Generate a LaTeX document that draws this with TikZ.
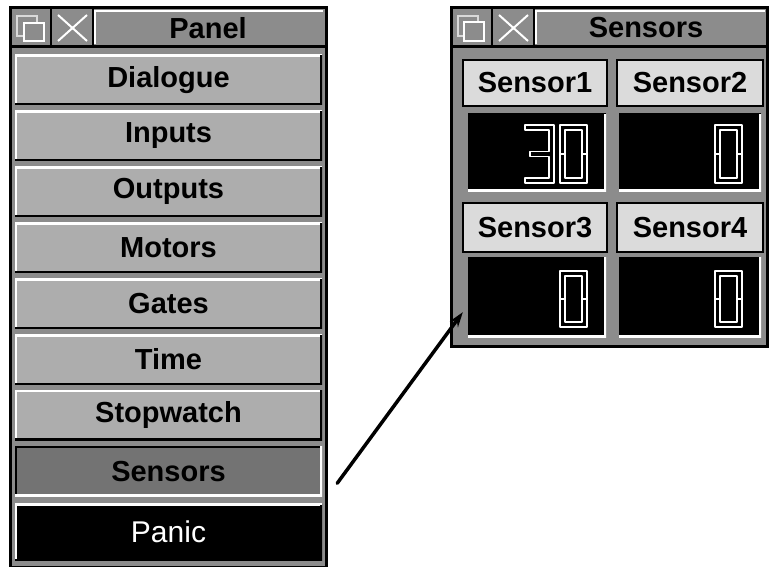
\documentclass[tikz,border=0pt]{standalone}
\usepackage{fontspec}
\setmainfont{Liberation Sans}
\usetikzlibrary{positioning,calc,arrows.meta}
\definecolor{wingray}{gray}{0.55}
\definecolor{btngray}{gray}{0.68}
\definecolor{selgray}{gray}{0.45}
\definecolor{labgray}{gray}{0.86}
\tikzset{
  uifont/.style={font=\fontsize{29}{29}\selectfont\bfseries},
  raised/.style={path picture={
    \draw[white,line width=4pt] (path picture bounding box.south west) -- (path picture bounding box.north west) -- (path picture bounding box.north east);
    \draw[black,line width=4pt] (path picture bounding box.north east) -- (path picture bounding box.south east) -- (path picture bounding box.south west);}},
  sunken/.style={path picture={
    \draw[black,line width=4pt] (path picture bounding box.south west) -- (path picture bounding box.north west) -- (path picture bounding box.north east);
    \draw[white,line width=4pt] (path picture bounding box.north east) -- (path picture bounding box.south east) -- (path picture bounding box.south west);}},
  btn/.style={uifont,fill=btngray,minimum width=307pt,minimum height=50pt,inner sep=0pt,raised},
  senslabel/.style={uifont,fill=labgray,draw=black,line width=2pt,inner sep=0pt},
  display/.style={fill=black,inner sep=0pt,sunken},
  seg/.style={white,line width=1.5pt,line join=round}
}
\begin{document}
\begin{tikzpicture}[x=1pt,y=-1pt]
\useasboundingbox (0,0) rectangle (774,567);
% panel window
\fill[wingray] (10,8) rectangle (326,567);
\draw[line width=3pt] (10,8) rectangle (326,567);
\draw[line width=3pt] (10,47) -- (326,47);
\draw[line width=2.5pt] (51,8) -- (51,47) (93,8) -- (93,47);
\draw[white,line width=1.5pt] (95,44) -- (95,11) -- (323,11);
\draw[white!85!black,line width=1.5pt] (17,16) rectangle (37,36);
\draw[white,line width=1.5pt,fill=wingray] (24,23) rectangle (44,41);
\draw[white,line width=2pt] (58,15) -- (87,41) (87,15) -- (58,41);
\node[uifont] (pnltitle) at (208,28) {Panel};
\node[btn] (dlgBtn) at (168.5,80) {Dialogue};
\node[btn,below=5.5pt of dlgBtn] (inBtn) {Inputs};
\node[btn,below=5.5pt of inBtn] (outBtn) {Outputs};
\node[btn,below=5.5pt of outBtn] (motBtn) {Motors};
\node[btn,below=5.5pt of motBtn] (gateBtn) {Gates};
\node[btn,below=5.5pt of gateBtn] (timeBtn) {Time};
\node[btn,below=5.5pt of timeBtn] (swBtn) {Stopwatch};
\node[btn,fill=selgray,sunken,below=5.5pt of swBtn] (sensBtn) {Sensors};
\node[btn,fill=black,text=white,font=\fontsize{30}{30}\selectfont,below=7pt of sensBtn,minimum height=57pt] (panicBtn) {Panic};
\draw[white,line width=2pt] (panicBtn.north west) -- (panicBtn.north east);
% sensors window
\fill[wingray] (451,8) rectangle (767,346);
\draw[line width=3pt] (451,8) rectangle (767,346);
\draw[line width=3pt] (451,47) -- (767,47);
\draw[line width=2.5pt] (492,8) -- (492,47) (534,8) -- (534,47);
\draw[white,line width=1.5pt] (536,44) -- (536,11) -- (765,11);
\draw[white!85!black,line width=1.5pt] (458,16) rectangle (478,36);
\draw[white,line width=1.5pt,fill=wingray] (464,22) rectangle (484,41);
\draw[white,line width=2pt] (499,15) -- (528,41) (528,15) -- (499,41);
\node[uifont] (sentitle) at (646,28) {Sensors};
\node[senslabel,minimum width=144pt,minimum height=46pt] (labA) at (535,83) {Sensor1};
\node[senslabel,minimum width=146pt,minimum height=46pt] (labB) at (690,83) {Sensor2};
\node[senslabel,minimum width=144pt,minimum height=49pt] (labC) at (535,227.5) {Sensor3};
\node[senslabel,minimum width=146pt,minimum height=49pt] (labD) at (690,227.5) {Sensor4};
\node[display,minimum width=138pt,minimum height=77pt] (dispA) at (537,152.5) {};
\node[display,minimum width=142pt,minimum height=77pt] (dispB) at (690,152.5) {};
\node[display,minimum width=138pt,minimum height=80pt] (dispC) at (537,297) {};
\node[display,minimum width=142pt,minimum height=80pt] (dispD) at (690,297) {};
% digits
\begin{scope}[shift={(525,125)}]
\draw[seg] (0,0) -- (29,0) -- (29,58) -- (0,58) -- (0,53) -- (24,53) -- (24,31.5) -- (5,31.5) -- (5,26.5) -- (24,26.5) -- (24,5) -- (0,5) -- cycle;
\end{scope}
\begin{scope}[shift={(560,125)}]
\draw[seg] (0,0) rectangle (27,58);
\draw[seg] (5,5) rectangle (22,53);
\draw[seg] (0,29) -- (5,29) (22,29) -- (27,29);
\end{scope}
\begin{scope}[shift={(715,125)}]
\draw[seg] (0,0) rectangle (27,58);
\draw[seg] (5,5) rectangle (22,53);
\draw[seg] (0,29) -- (5,29) (22,29) -- (27,29);
\end{scope}
\begin{scope}[shift={(560,271)}]
\draw[seg] (0,0) rectangle (27,56);
\draw[seg] (5,5) rectangle (22,51);
\draw[seg] (0,28) -- (5,28) (22,28) -- (27,28);
\end{scope}
\begin{scope}[shift={(715,271)}]
\draw[seg] (0,0) rectangle (27,56);
\draw[seg] (5,5) rectangle (22,51);
\draw[seg] (0,28) -- (5,28) (22,28) -- (27,28);
\end{scope}
% arrow
\coordinate (tail) at ($(sensBtn.east)+(15,12)$);
\draw[line width=3.5pt,line cap=round,-{Stealth[length=15pt,width=10pt]}] (tail) -- ($(dispC.south west)+(-5,-25)$);
\end{tikzpicture}
\end{document}
